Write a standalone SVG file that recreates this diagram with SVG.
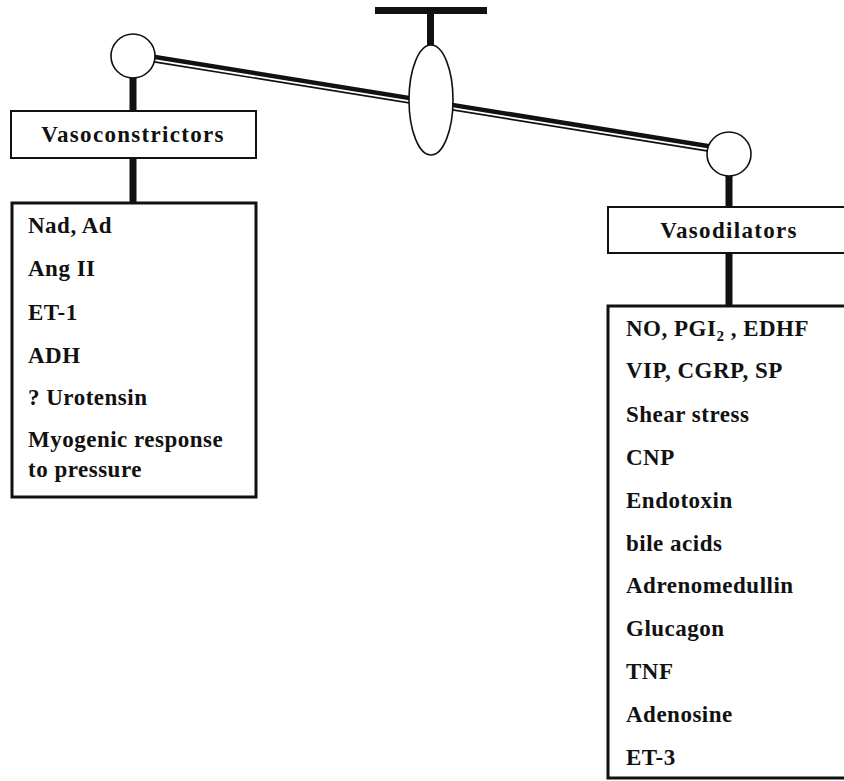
<svg xmlns="http://www.w3.org/2000/svg" width="844" height="781" viewBox="0 0 844 781">
  <style>
    .txt { font-family: "Liberation Serif", "Times New Roman", serif; font-weight: bold; font-size: 23px; fill: #111; }
    .head { letter-spacing: 1.3px; text-anchor: middle; }
    .item { letter-spacing: 0.5px; }
    .hbox { fill: #fff; stroke: #111; stroke-width: 2; }
    .lbox { fill: #fff; stroke: #111; stroke-width: 3; }
    .post { fill: #111; }
    .pivot { fill: #fff; stroke: #111; stroke-width: 1.6; }
  </style>
  <rect width="844" height="781" fill="#fff"/>

  <!-- balance frame: hanger, beam, pivot and pans -->
  <g id="connectors">
    <rect class="post" x="375" y="7" width="112" height="7"/>
    <rect class="post" x="427" y="14" width="7" height="33"/>
    <!-- double-ruled beam -->
    <line x1="150" y1="58" x2="712" y2="148.5" stroke="#111" stroke-width="8"/>
    <line x1="150" y1="59.4" x2="712" y2="149.9" stroke="#fff" stroke-width="1.8"/>
    <rect class="post" x="129.5" y="76" width="7" height="36"/>
    <rect class="post" x="129.5" y="158" width="7" height="45"/>
    <rect class="post" x="725.5" y="174" width="7" height="34"/>
    <rect class="post" x="725.5" y="252" width="7" height="54"/>
  </g>

  <g id="pivot">
    <ellipse class="pivot" cx="431" cy="100" rx="22" ry="55"/>
  </g>
  <g id="left-pan">
    <circle class="pivot" cx="133" cy="56" r="22"/>
  </g>
  <g id="right-pan">
    <circle class="pivot" cx="729" cy="154" r="22"/>
  </g>

  <g id="vasoconstrictors">
    <rect class="hbox" x="11" y="111" width="245" height="47"/>
    <text class="txt head" x="133" y="142">Vasoconstrictors</text>
  </g>

  <g id="constrictor-list">
    <rect class="lbox" x="12" y="203" width="244" height="294"/>
    <text class="txt item" x="28" y="233">Nad, Ad</text>
    <text class="txt item" x="28" y="276">Ang II</text>
    <text class="txt item" x="28" y="320">ET-1</text>
    <text class="txt item" x="28" y="363">ADH</text>
    <text class="txt item" x="28" y="405">? Urotensin</text>
    <text class="txt item" x="28" y="447">Myogenic response</text>
    <text class="txt item" x="28" y="477">to pressure</text>
  </g>

  <g id="vasodilators">
    <rect class="hbox" x="608" y="207" width="244" height="46"/>
    <text class="txt head" x="729" y="238">Vasodilators</text>
  </g>

  <g id="dilator-list">
    <rect class="lbox" x="608" y="306" width="244" height="472"/>
    <text class="txt item" x="626" y="336">NO, PGI<tspan font-size="15" dy="5">2</tspan><tspan dy="-5"> , EDHF</tspan></text>
    <text class="txt item" x="626" y="378">VIP, CGRP, SP</text>
    <text class="txt item" x="626" y="422">Shear stress</text>
    <text class="txt item" x="626" y="465">CNP</text>
    <text class="txt item" x="626" y="508">Endotoxin</text>
    <text class="txt item" x="626" y="551">bile acids</text>
    <text class="txt item" x="626" y="593">Adrenomedullin</text>
    <text class="txt item" x="626" y="636">Glucagon</text>
    <text class="txt item" x="626" y="679">TNF</text>
    <text class="txt item" x="626" y="722">Adenosine</text>
    <text class="txt item" x="626" y="765">ET-3</text>
  </g>
</svg>
